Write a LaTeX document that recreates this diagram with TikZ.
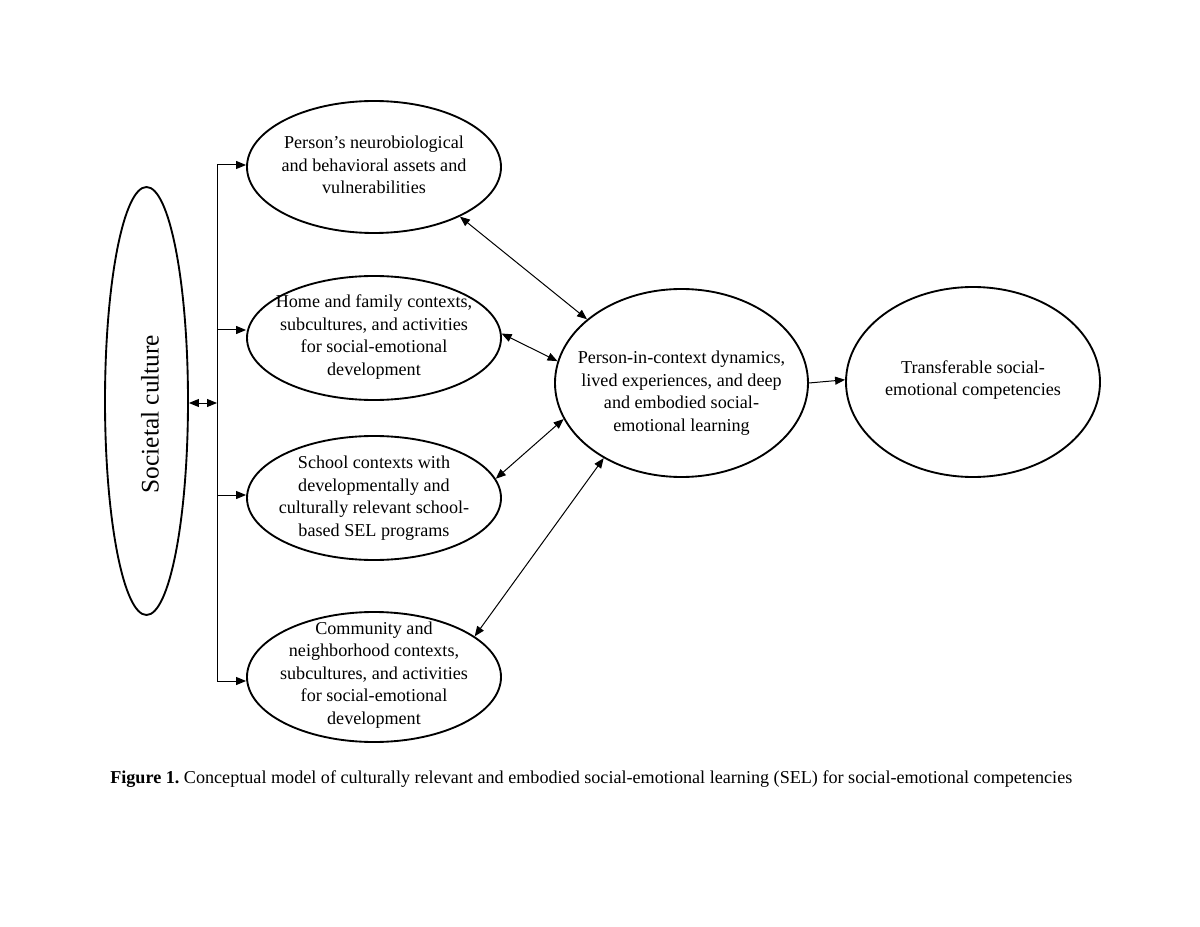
\documentclass[tikz,border=0pt]{standalone}
\usepackage{fontspec}
\setmainfont{Liberation Serif}
\usetikzlibrary{shapes.geometric,arrows.meta}
\frenchspacing
\begin{document}
\begin{tikzpicture}[x=0.75pt,y=-0.75pt,
  ell/.style={draw,ellipse,line width=1.4pt,inner sep=0pt},
  txt/.style={align=center,inner sep=0pt,font=\fontsize{13.6}{16.9}\selectfont},
  conn/.style={line width=0.75pt,-{Triangle[length=7.5pt,width=6pt]}},
  dconn/.style={line width=0.75pt,{Triangle[length=7.5pt,width=6pt]}-{Triangle[length=7.5pt,width=6pt]}},
  plain/.style={line width=0.75pt}]
\useasboundingbox (0,0) rectangle (1200,927);
% ellipses
\node[ell,minimum width=62.25pt,minimum height=321pt] (s) at (146.5,401) {};
\node[ell,minimum width=190.5pt,minimum height=99pt] (e1) at (374,167) {};
\node[ell,minimum width=190.5pt,minimum height=93pt] (e2) at (374,338) {};
\node[ell,minimum width=190.5pt,minimum height=93pt] (e3) at (374,498) {};
\node[ell,minimum width=190.5pt,minimum height=97.5pt] (e4) at (374,677) {};
\node[ell,minimum width=189.75pt,minimum height=141pt] (c) at (681.5,383) {};
\node[ell,minimum width=190.5pt,minimum height=142.5pt] (r) at (973,382) {};
% texts
\node[rotate=90,font=\fontsize{19}{22}\selectfont] (st) at (150,414) {Societal culture};
\node[txt] (e1t) at (374,165) {Person’s neurobiological\\and behavioral assets and\\vulnerabilities};
\node[txt] (e2t) at (374,337) {Home and family contexts,\\subcultures, and activities\\for social-emotional\\development};
\node[txt] (e3t) at (374,498) {School contexts with\\developmentally and\\culturally relevant school-\\based SEL programs};
\node[txt] (e4t) at (374,675) {Community and\\neighborhood contexts,\\subcultures, and activities\\for social-emotional\\development};
\node[txt] (ct) at (681.5,393) {Person-in-context dynamics,\\lived experiences, and deep\\and embodied social-\\emotional learning};
\node[txt] (rt) at (973,380) {Transferable social-\\emotional competencies};
% bracket
\coordinate (b1) at (217,165);
\coordinate (b2) at (217,330);
\coordinate (b3) at (217,495);
\coordinate (b4) at (217,681);
\coordinate (bm) at (217,403);
\draw[plain] (b1) -- (b4);
\draw[conn] (b1) -- (b1 -| e1.west);
\draw[conn] (b2) -- (b2 -| e2.west);
\draw[conn] (b3) -- (b3 -| e3.west);
\draw[conn] (b4) -- (b4 -| e4.west);
\draw[dconn] (s.east |- bm) -- (bm);
% to center
\draw[dconn] (e1.-30) -- (c.146);
\draw[dconn] (e2.2) -- (c.170.8);
\draw[dconn] (e3.9) -- (c.197.6);
\draw[dconn] (e4.22) -- (c.224.4);
\draw[conn] (c.0) -- (r.179);
\node[anchor=west,inner sep=0pt,font=\fontsize{13.6}{16}\selectfont] (cap) at (110,779)
  {\textbf{Figure 1.} Conceptual model of culturally relevant and embodied social-emotional learning (SEL) for social-emotional competencies};
\end{tikzpicture}
\end{document}
